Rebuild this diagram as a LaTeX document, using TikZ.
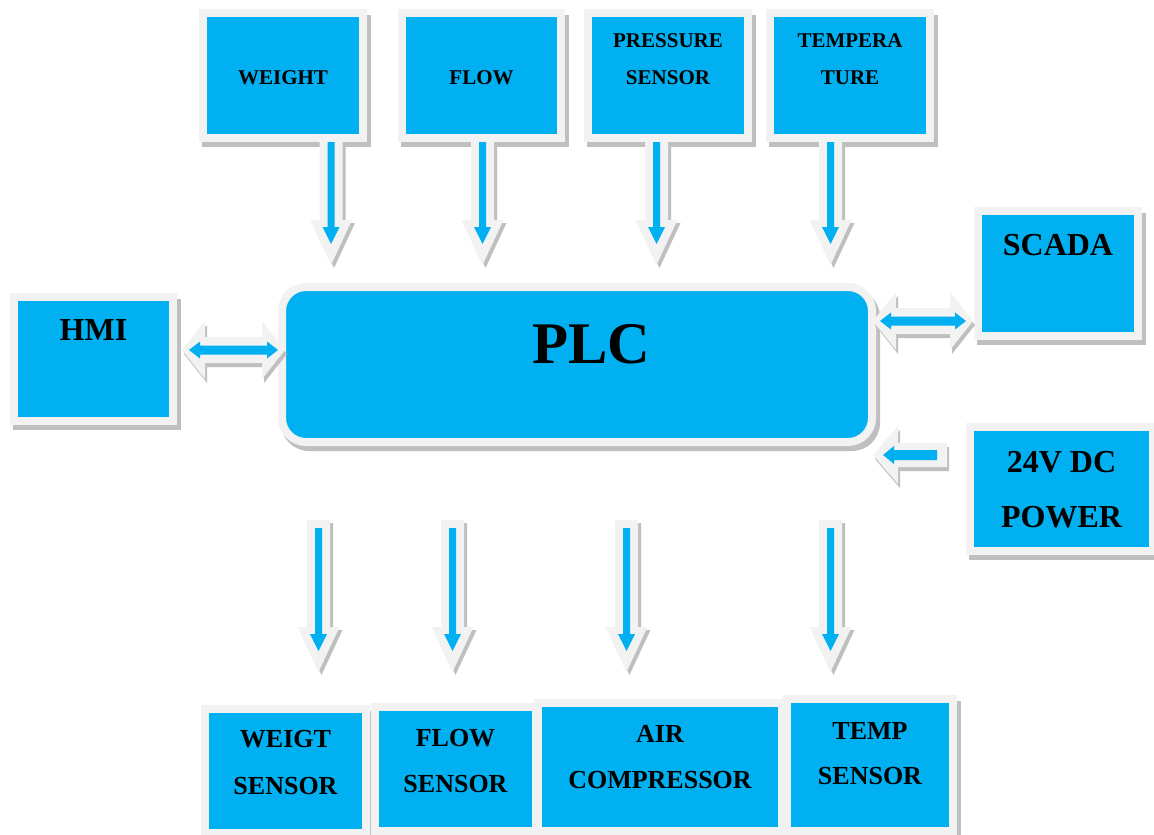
\documentclass[tikz,border=0pt]{standalone}
\usepackage{fontspec}
\setmainfont{Liberation Serif}
\usetikzlibrary{calc}

\definecolor{boxblue}{HTML}{00B0F0}
\definecolor{rimgray}{HTML}{F2F2F2}
\definecolor{shadegray}{HTML}{BFBFBF}

\pgfdeclarelayer{paper}
\pgfdeclarelayer{shade}
\pgfsetlayers{paper,shade,main}

% vertical block arrow pointing down
% #1 colour, #2 tail, #3 tip, #4 offset, #5 shaft half width, #6 head half width,
% #7 head length, #8 tail inset, #9 tip inset
\newcommand\vfillarrow[9]{\fill[#1]
  ($(#2)+(-#5+#4,#8+#4)$) -- ($(#2)+(#5+#4,#8+#4)$) --
  ($(#3)+(#5+#4,-#9-#7+#4)$) -- ($(#3)+(#6+#4,-#9-#7+#4)$) --
  ($(#3)+(#4,-#9+#4)$) --
  ($(#3)+(-#6+#4,-#9-#7+#4)$) -- ($(#3)+(-#5+#4,-#9-#7+#4)$) -- cycle;}

% horizontal double-headed block arrow
% #1 colour, #2 left tip, #3 right tip, #4 x offset, #5 y offset,
% #6 shaft half width, #7 head half width, #8 head length, #9 inset
\newcommand\hdfillarrow[9]{\fill[#1]
  ($(#2)+(#9+#4,#5)$) -- ($(#2)+(#9+#8+#4,-#7+#5)$) -- ($(#2)+(#9+#8+#4,-#6+#5)$) --
  ($(#3)+(-#9-#8+#4,-#6+#5)$) -- ($(#3)+(-#9-#8+#4,-#7+#5)$) -- ($(#3)+(-#9+#4,#5)$) --
  ($(#3)+(-#9-#8+#4,#7+#5)$) -- ($(#3)+(-#9-#8+#4,#6+#5)$) --
  ($(#2)+(#9+#8+#4,#6+#5)$) -- ($(#2)+(#9+#8+#4,#7+#5)$) -- cycle;}

% horizontal single block arrow pointing left
% #1 colour, #2 tip, #3 tail, #4 x offset, #5 y offset,
% #6 shaft half width, #7 head half width, #8 head length, #9 inset
\newcommand\hlfillarrow[9]{\fill[#1]
  ($(#2)+(#9+#4,#5)$) -- ($(#2)+(#9+#8+#4,-#7+#5)$) -- ($(#2)+(#9+#8+#4,-#6+#5)$) --
  ($(#3)+(-#9+#4,-#6+#5)$) -- ($(#3)+(-#9+#4,#6+#5)$) --
  ($(#2)+(#9+#8+#4,#6+#5)$) -- ($(#2)+(#9+#8+#4,#7+#5)$) -- cycle;}

\newcommand\downblk[3]{%
  \vfillarrow{shadegray}{#1}{#2}{3}{11.5}{21}{45}{0}{0}
  \vfillarrow{rimgray}{#1}{#2}{0}{11.5}{21}{45}{0}{0}
  \vfillarrow{boxblue}{#1}{#2}{0}{3.5}{8.5}{17}{#3}{21}}

\newcommand\twowayblk[2]{%
  \hdfillarrow{shadegray}{#1}{#2}{2}{4}{13}{29}{23}{0}
  \hdfillarrow{rimgray}{#1}{#2}{0}{0}{13}{29}{23}{0}
  \hdfillarrow{boxblue}{#1}{#2}{0}{0}{4.5}{8.5}{11}{7}}

\newcommand\leftblk[2]{%
  \hlfillarrow{shadegray}{#1}{#2}{2}{4}{12}{29}{25}{0}
  \hlfillarrow{rimgray}{#1}{#2}{0}{0}{12}{29}{25}{0}
  \hlfillarrow{boxblue}{#1}{#2}{0}{0}{5}{9}{11}{10}}

\tikzset{
  blk/.style={rectangle, draw=rimgray, line width=8pt, fill=boxblue, inner sep=0pt},
  txt/.style={anchor=base, inner sep=0pt, text=black,
              font=\bfseries\fontsize{#1}{#1}\selectfont},
}

\begin{document}
\begin{tikzpicture}[x=1pt,y=-1pt]
\useasboundingbox (0,0) rectangle (1154,835);
\begin{pgfonlayer}{paper}
  \fill[white] (0,0) rectangle (1154,835);
\end{pgfonlayer}

% input sensors
\node[blk, minimum width=160pt, minimum height=125pt] (w) at (283,75.5) {};
\node[blk, minimum width=159pt, minimum height=125pt] (f) at (481.5,75.5) {};
\node[blk, minimum width=160pt, minimum height=125pt] (p) at (668,75.5) {};
\node[blk, minimum width=160pt, minimum height=125pt] (t) at (850,75.5) {};

% controller and side units
\node[blk, rounded corners=24pt, minimum width=590pt, minimum height=155pt] (plc) at (577,364.5) {};
\node[blk, minimum width=159pt, minimum height=124pt] (hmi) at (93.5,359) {};
\node[blk, minimum width=160pt, minimum height=125pt] (scada) at (1058,273.5) {};
\node[blk, minimum width=183pt, minimum height=124pt] (pwr) at (1061.5,489) {};

% outputs
\node[blk, minimum width=161pt, minimum height=124pt] (ows) at (285.5,771) {};
\node[blk, minimum width=161pt, minimum height=124pt] (ofs) at (455.5,769) {};
\node[blk, minimum width=244pt, minimum height=128pt] (oac) at (660,767) {};
\node[blk, minimum width=166pt, minimum height=132pt] (ots) at (870,765) {};

% drop shadows
\begin{pgfonlayer}{shade}
  \foreach \n in {w,f,p,t,hmi,scada,pwr,ows,ofs,oac,ots}
    \fill[shadegray] ([xshift=3pt,yshift=-6pt]\n.north west) rectangle ([xshift=4pt,yshift=-5pt]\n.south east);
  \fill[shadegray, rounded corners=28pt] ([xshift=3pt,yshift=-6pt]plc.north west) rectangle ([xshift=4pt,yshift=-5pt]plc.south east);
\end{pgfonlayer}

% labels
\node[txt=21] (wl) at (283,84) {WEIGHT};
\node[txt=21] (fl) at (481.5,84) {FLOW};
\node[txt=21] (pl1) at (668,47) {PRESSURE};
\node[txt=21] (pl2) at (668,84) {SENSOR};
\node[txt=21] (tl1) at (850,47) {TEMPERA};
\node[txt=21] (tl2) at (850,84) {TURE};
\node[txt=59] (plcl) at (591,363) {PLC};
\node[txt=32] (hmil) at (93.5,340) {HMI};
\node[txt=32] (scl) at (1058,255) {SCADA};
\node[txt=32] (pwl1) at (1061.5,472) {24V DC};
\node[txt=32] (pwl2) at (1061.5,527) {POWER};
\node[txt=26] (owl1) at (285.5,747) {WEIGT};
\node[txt=26] (owl2) at (285.5,794) {SENSOR};
\node[txt=26] (ofl1) at (455.5,746) {FLOW};
\node[txt=26] (ofl2) at (455.5,792) {SENSOR};
\node[txt=26] (oal1) at (660,742) {AIR};
\node[txt=26] (oal2) at (660,788) {COMPRESSOR};
\node[txt=26] (otl1) at (870,739) {TEMP};
\node[txt=26] (otl2) at (870,784) {SENSOR};

% connector end points
\coordinate (iw0) at (331,142);   \coordinate (iw1) at (331,265);
\coordinate (if0) at (482.5,142); \coordinate (if1) at (482.5,265);
\coordinate (ip0) at (656.5,142); \coordinate (ip1) at (656.5,265);
\coordinate (it0) at (830.5,142); \coordinate (it1) at (830.5,265);
\coordinate (ow0) at (318.5,520); \coordinate (ow1) at (318.5,672);
\coordinate (of0) at (452.5,520); \coordinate (of1) at (452.5,672);
\coordinate (oa0) at (626.5,520); \coordinate (oa1) at (626.5,672);
\coordinate (ot0) at (830.5,520); \coordinate (ot1) at (830.5,672);
\coordinate (hm0) at (182,350);   \coordinate (hm1) at (285,350);
\coordinate (sc0) at (873,321);   \coordinate (sc1) at (973,321);
\coordinate (pw0) at (873,455);   \coordinate (pw1) at (947,455);

% sensor inputs into the PLC
\downblk{iw0}{iw1}{0}
\downblk{if0}{if1}{0}
\downblk{ip0}{ip1}{0}
\downblk{it0}{it1}{0}

% PLC outputs
\downblk{ow0}{ow1}{8}
\downblk{of0}{of1}{8}
\downblk{oa0}{oa1}{8}
\downblk{ot0}{ot1}{8}

% two-way links and supply
\twowayblk{hm0}{hm1}
\twowayblk{sc0}{sc1}
\leftblk{pw0}{pw1}
\end{tikzpicture}
\end{document}
